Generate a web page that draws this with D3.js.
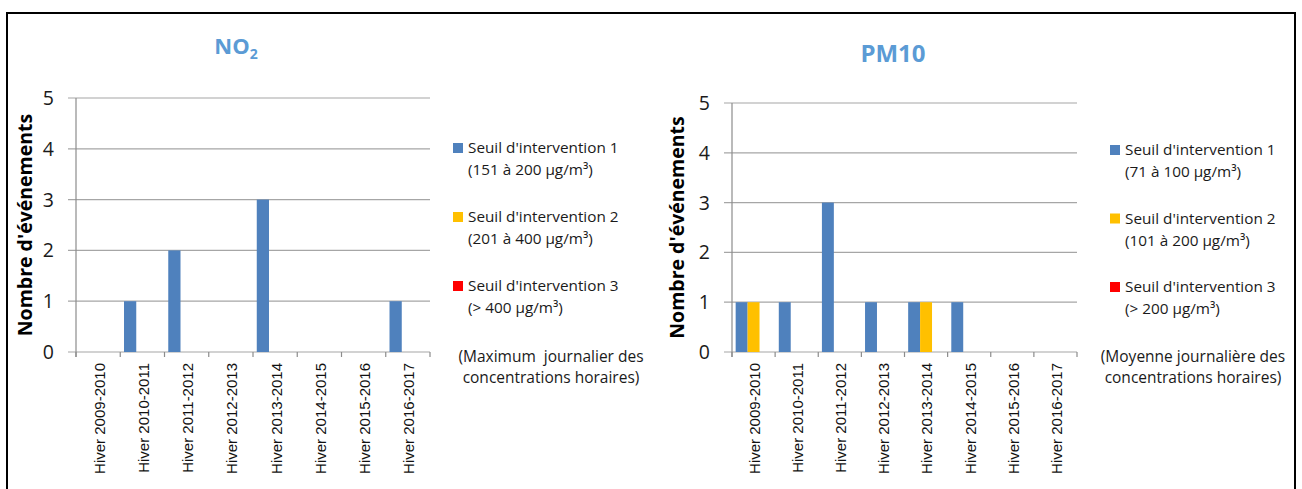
<!DOCTYPE html>
<html><head><meta charset="utf-8">
<script src="https://cdn.jsdelivr.net/npm/d3@7"></script>
<style>
html,body{margin:0;padding:0;background:#fff;}
svg{display:block;}
</style></head>
<body>
<svg id="chart" width="1302" height="489"></svg>
<script>
// ---- data ----
const categories = ["Hiver 2009-2010","Hiver 2010-2011","Hiver 2011-2012","Hiver 2012-2013","Hiver 2013-2014","Hiver 2014-2015","Hiver 2015-2016","Hiver 2016-2017"];
const seriesNames = ["Seuil d'intervention 1","Seuil d'intervention 2","Seuil d'intervention 3"];
const seriesColors = ["#4F81BD","#FFC000","#FF0000"];
const no2Seuil1 = [0,1,2,0,3,0,0,1];
const no2Seuil2 = [0,0,0,0,0,0,0,0];
const no2Seuil3 = [0,0,0,0,0,0,0,0];
const pm10Seuil1 = [1,1,3,1,1,1,0,0];
const pm10Seuil2 = [1,0,0,0,1,0,0,0];
const pm10Seuil3 = [0,0,0,0,0,0,0,0];
const no2Ranges = ["(151 à 200 µg/m³)","(201 à 400 µg/m³)","(> 400 µg/m³)"];
const pm10Ranges = ["(71 à 100 µg/m³)","(101 à 200 µg/m³)","(> 200 µg/m³)"];
const no2Note = ["(Maximum  journalier des","concentrations horaires)"];
const pm10Note = ["(Moyenne journalière des","concentrations horaires)"];
const yTicks = [0,1,2,3,4,5];
const yTitle = "Nombre d'événements";

const svg = d3.select("#chart");
// outer frame
svg.append("rect").attr("x",7).attr("y",13).attr("width",1288).attr("height",500)
  .attr("fill","none").attr("stroke","#000").attr("stroke-width",2);

const FONT = "'Open Sans', 'Noto Sans', sans-serif";

function drawChart(cfg){
  const g = svg.append("g");
  const x = d3.scaleBand().domain(categories).range([cfg.left, cfg.right]).padding(0);
  const bw = x.bandwidth();
  const x1 = d3.scaleBand().domain(d3.range(3)).range([bw*0.085, bw*0.915]).padding(0);
  const y = d3.scaleLinear().domain([0,5]).range([cfg.bottom, cfg.top]);

  // gridlines
  g.selectAll(".grid").data(yTicks).join("line")
    .attr("x1", cfg.left-8).attr("x2", cfg.right)
    .attr("y1", d=>y(d)).attr("y2", d=>y(d))
    .attr("stroke","#A6A6A6").attr("stroke-width",1.2);

  // bars
  const data = [];
  cfg.series.forEach((vals,si)=>{
    vals.forEach((v,ci)=>{ if(v>0) data.push({cat:categories[ci], s:si, v}); });
  });
  g.selectAll(".bar").data(data).join("rect")
    .attr("x", d=>x(d.cat)+x1(d.s))
    .attr("width", x1.bandwidth())
    .attr("y", d=>y(d.v))
    .attr("height", d=>y(0)-y(d.v))
    .attr("fill", d=>seriesColors[d.s]);

  // y axis line
  g.append("line").attr("x1",cfg.left).attr("x2",cfg.left)
    .attr("y1",cfg.top).attr("y2",cfg.bottom+5)
    .attr("stroke","#8C8C8C").attr("stroke-width",1.2);
  // x axis ticks at band edges
  const edges = categories.map(c=>x(c)).concat([cfg.right]);
  g.selectAll(".xt").data(edges).join("line")
    .attr("x1",d=>d).attr("x2",d=>d)
    .attr("y1",cfg.bottom).attr("y2",cfg.bottom+5)
    .attr("stroke","#8C8C8C").attr("stroke-width",1.2);

  // y tick labels
  g.selectAll(".yl").data(yTicks).join("text")
    .attr("x", cfg.left-22).attr("y", d=>y(d)).attr("dy","0.36em")
    .attr("text-anchor","end")
    .style("font-family",FONT).style("font-size","19.5px").attr("fill","#1a1a1a")
    .text(d=>d);

  // x labels
  g.selectAll(".xl").data(categories).join("text")
    .attr("transform", d=>`translate(${x(d)+bw/2+1},${cfg.bottom+11}) rotate(-90)`)
    .attr("text-anchor","end").attr("dy","0.36em")
    .style("font-family","'Liberation Sans', Arial, sans-serif").style("font-size","15px")
    .attr("fill","#111")
    .text(d=>d);

  // y title
  g.append("text")
    .attr("transform", `translate(${cfg.yTitleX},${(cfg.top+cfg.bottom)/2}) rotate(-90)`)
    .attr("text-anchor","middle").attr("dy","0.36em")
    .style("font-family",FONT).style("font-size","19.5px").style("font-weight","bold")
    .attr("fill","#000").text(yTitle);

  // title
  const t = g.append("text").attr("x",cfg.titleX).attr("y",cfg.titleY)
    .attr("text-anchor","middle")
    .style("font-family",FONT).style("font-size",cfg.titleSize).style("font-weight","bold")
    .attr("fill","#5B9BD5");
  t.append("tspan").text(cfg.title);
  if(cfg.titleSub){
    t.append("tspan").attr("dy",5).style("font-size","14px").text(cfg.titleSub);
  }

  // legend
  const lg = g.append("g");
  seriesNames.forEach((name,i)=>{
    const cy = cfg.legY + i*cfg.legStep;
    lg.append("rect").attr("x",cfg.legX).attr("y",cy-5).attr("width",10).attr("height",10)
      .attr("fill",seriesColors[i]);
    lg.append("text").attr("x",cfg.legX+15).attr("y",cy+5)
      .style("font-family",FONT).style("font-size","15.3px").attr("fill","#1a1a1a").text(name);
    lg.append("text").attr("x",cfg.legX+15).attr("y",cy+27)
      .style("font-family",FONT).style("font-size","15.3px").attr("fill","#1a1a1a").text(cfg.ranges[i]);
  });
  cfg.note.forEach((line,i)=>{
    lg.append("text").attr("x",cfg.noteX).attr("y",cfg.noteY+i*21)
      .attr("text-anchor","middle").style("white-space","pre")
      .style("font-family",FONT).style("font-size","15.5px").attr("fill","#1a1a1a").text(line);
  });
}

drawChart({left:76, right:430, top:98, bottom:352, yTitleX:25,
  title:"NO", titleSub:"2", titleX:236, titleY:54, titleSize:"22px",
  series:[no2Seuil1,no2Seuil2,no2Seuil3], ranges:no2Ranges,
  legX:453, legY:148, legStep:69, note:no2Note, noteX:551, noteY:362});
drawChart({left:732, right:1077, top:103, bottom:352, yTitleX:677,
  title:"PM10", titleSub:null, titleX:893, titleY:62, titleSize:"24px",
  series:[pm10Seuil1,pm10Seuil2,pm10Seuil3], ranges:pm10Ranges,
  legX:1110, legY:150, legStep:68.5, note:pm10Note, noteX:1193, noteY:362});
</script>
</body></html>
